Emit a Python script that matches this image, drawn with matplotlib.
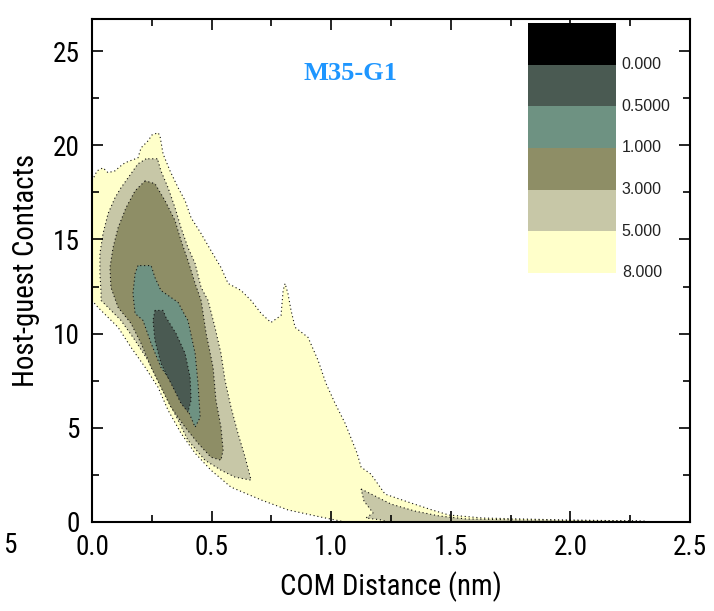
import numpy as np
import matplotlib
matplotlib.use("Agg")
import matplotlib.pyplot as plt
from matplotlib import font_manager as fm
from matplotlib.patches import Polygon, Rectangle

## Contour regions (x = COM distance nm, y = contacts)
# free energy band 5-8
band_8_x = [1.058, 0.957, 0.819, 0.707, 0.581, 0.497, 0.431, 0.372, 0.318, 0.276, 0.222, 0.163, 0.109, 0.025, 0.0,
            0.0, 0.021, 0.046, 0.067, 0.096, 0.121, 0.138, 0.192, 0.205, 0.234, 0.251, 0.276, 0.284, 0.297, 0.326,
            0.360, 0.389, 0.414, 0.456, 0.497, 0.539, 0.569, 0.623, 0.665, 0.707, 0.748, 0.790, 0.799, 0.807, 0.819,
            0.832, 0.849, 0.903, 0.945, 0.978, 1.016, 1.058, 1.108, 1.125, 1.166, 1.225, 1.321, 1.421, 1.492, 1.635,
            1.957, 2.312, 2.312]
band_8_y = [0.0, 0.26, 0.64, 1.17, 1.85, 2.75, 3.65, 4.71, 5.93, 7.15, 8.21, 9.27, 10.33, 11.39, 11.76,
            18.11, 18.64, 18.80, 18.54, 18.64, 18.91, 19.07, 19.33, 19.86, 20.23, 20.55, 20.66, 20.50, 19.54, 18.64,
            17.74, 17.06, 16.15, 15.31, 14.41, 13.51, 12.66, 12.29, 11.76, 11.07, 10.59, 10.96, 12.29, 12.66, 12.13,
            11.23, 10.33, 9.80, 8.58, 7.36, 6.30, 5.24, 3.65, 2.91, 2.54, 1.48, 1.06, 0.64, 0.37, 0.21,
            0.11, 0.05, 0.0]

# band 3-5
band_5_x = [0.226, 0.192, 0.163, 0.121, 0.096, 0.067, 0.046, 0.033, 0.033, 0.038, 0.038, 0.121, 0.180, 0.234,
            0.276, 0.318, 0.360, 0.401, 0.472, 0.539, 0.598, 0.665, 0.640, 0.610, 0.581, 0.556, 0.539, 0.514,
            0.485, 0.456, 0.431, 0.401, 0.372, 0.347, 0.318, 0.288, 0.276, 0.276]
band_5_y = [19.28, 19.01, 18.49, 17.74, 17.21, 16.37, 15.31, 14.25, 13.19, 12.13, 11.76, 10.70, 9.64, 8.58,
            7.52, 6.46, 5.40, 4.34, 3.28, 2.75, 2.38, 2.22, 3.44, 4.71, 6.09, 7.52, 8.95, 10.33,
            11.76, 12.45, 13.72, 14.57, 15.62, 16.68, 17.74, 18.64, 19.17, 19.28]
tail_5_x = [1.125, 1.183, 1.250, 1.350, 1.451, 1.564, 1.789, 2.291, 2.291, 1.237, 1.208, 1.145, 1.175, 1.137]
tail_5_y = [1.75, 1.38, 0.95, 0.58, 0.32, 0.16, 0.11, 0.05, 0.0, 0.0, 0.11, 0.21, 0.48, 1.11]

# band 1-3
band_3_x = [0.222, 0.180, 0.142, 0.109, 0.088, 0.075, 0.079, 0.109, 0.163, 0.205, 0.247, 0.288, 0.330, 0.389,
            0.443, 0.497, 0.539, 0.548, 0.539, 0.518, 0.506, 0.477, 0.456, 0.431, 0.401, 0.372, 0.347, 0.305, 0.263]
band_3_y = [18.11, 17.58, 16.68, 15.62, 14.57, 13.51, 12.45, 11.39, 10.54, 9.48, 8.21, 7.15, 6.09, 5.03,
            4.18, 3.44, 3.28, 3.81, 5.03, 6.46, 8.21, 10.01, 11.76, 12.66, 13.88, 14.94, 16.00, 17.06, 17.96]

# band 0.5-1
band_1_x = [0.192, 0.180, 0.171, 0.180, 0.213, 0.247, 0.288, 0.347, 0.401, 0.431, 0.452, 0.443, 0.431, 0.401,
            0.389, 0.360, 0.330, 0.288, 0.263, 0.247]
band_1_y = [13.61, 13.19, 12.13, 11.07, 10.70, 9.48, 8.21, 7.15, 5.93, 5.03, 5.56, 7.36, 8.95, 10.70,
            10.96, 11.65, 11.92, 12.29, 12.98, 13.61]

# band 0-0.5
band_05_x = [0.263, 0.255, 0.263, 0.288, 0.330, 0.372, 0.401, 0.414, 0.410, 0.389, 0.351, 0.309, 0.297]
band_05_y = [11.23, 10.70, 9.64, 8.42, 7.36, 6.30, 5.83, 6.46, 7.68, 8.95, 10.01, 10.86, 11.23]

levels = ["0.000", "0.5000", "1.000", "3.000", "5.000", "8.000"]
level_colors = ["#000000", "#4a5a52", "#6e9282", "#8e8e66", "#c7c7a7", "#ffffca"]

# narrow font for the axes if one is there, sized so the x label is ~221 px wide
names = {f.name for f in fm.fontManager.ttflist}
cands = ["Liberation Sans Narrow", "Arial Narrow", "Roboto Condensed", "DejaVu Sans Condensed",
         "Open Sans Condensed", "Noto Sans Condensed"]
axfont = next((c for c in cands if c in names), "Liberation Sans")

fig = plt.figure(figsize=(7.14, 6.11), dpi=100)
ax = fig.add_axes([0.1289, 0.1457, 0.8375, 0.8232])

r = fig.canvas.get_renderer()
probe = fig.text(0, 0, "COM Distance (nm)", family=axfont, fontsize=20)
w = probe.get_window_extent(r).width
probe.remove()
lsize = min(20 * 221.0 / w, 23)
tsize = lsize * 0.95

edge = dict(edgecolor="#111111", linewidth=0.8, linestyle=(0, (1, 2.5)))
regions = [
    (band_8_x, band_8_y, level_colors[5]),
    (band_5_x, band_5_y, level_colors[4]),
    (tail_5_x, tail_5_y, level_colors[4]),
    (band_3_x, band_3_y, level_colors[3]),
    (band_1_x, band_1_y, level_colors[2]),
    (band_05_x, band_05_y, level_colors[1]),
]
for xs, ys, c in regions:
    ax.add_patch(Polygon(np.column_stack([xs, ys]), closed=True, facecolor=c, **edge))

ax.set_xlim(0, 2.5)
ax.set_ylim(0, 26.7)
ax.set_xticks(np.arange(0, 2.51, 0.5))
ax.set_xticks(np.arange(0, 2.51, 0.25), minor=True)
ax.set_yticks(np.arange(0, 26, 5))
ax.set_yticks(np.arange(0, 26.7, 2.5), minor=True)
ax.set_xticklabels(["%.1f" % v for v in np.arange(0, 2.51, 0.5)], family=axfont, fontsize=tsize)
ax.set_yticklabels(["%d" % v for v in np.arange(0, 26, 5)], family=axfont, fontsize=tsize)
ax.tick_params(which="both", direction="in", top=True, right=True, width=1.2)
ax.tick_params(which="major", length=8, pad=9)
ax.tick_params(which="minor", length=5)
for s in ax.spines.values():
    s.set_linewidth(1.5)

ax.set_xlabel("COM Distance (nm)", family=axfont, fontsize=lsize, labelpad=7)
ax.set_ylabel("Host-guest Contacts", family=axfont, fontsize=lsize, labelpad=9)

ax.text(1.08, 23.8, "M35-G1", family="Liberation Serif", fontweight="bold", fontsize=19,
        color="#1e96ff", ha="center", va="center")

# level key
bx0, bw, btop, bh = 0.729, 0.147, 0.992, 0.0828
for i, (lab, c) in enumerate(zip(levels, level_colors)):
    y0 = btop - (i + 1) * bh
    ax.add_patch(Rectangle((bx0, y0), bw, bh, transform=ax.transAxes, facecolor=c,
                           edgecolor="none", zorder=5))
    ax.text(bx0 + bw + 0.01, y0, lab, transform=ax.transAxes, fontsize=11.5,
            family="Liberation Sans", color="#222222", ha="left", va="center", zorder=6)

# stray label from neighbouring panel
fig.text(0.014, 0.108, "5", family=axfont, fontsize=tsize, ha="center", va="center")

fig.savefig("out.png", dpi=100)
